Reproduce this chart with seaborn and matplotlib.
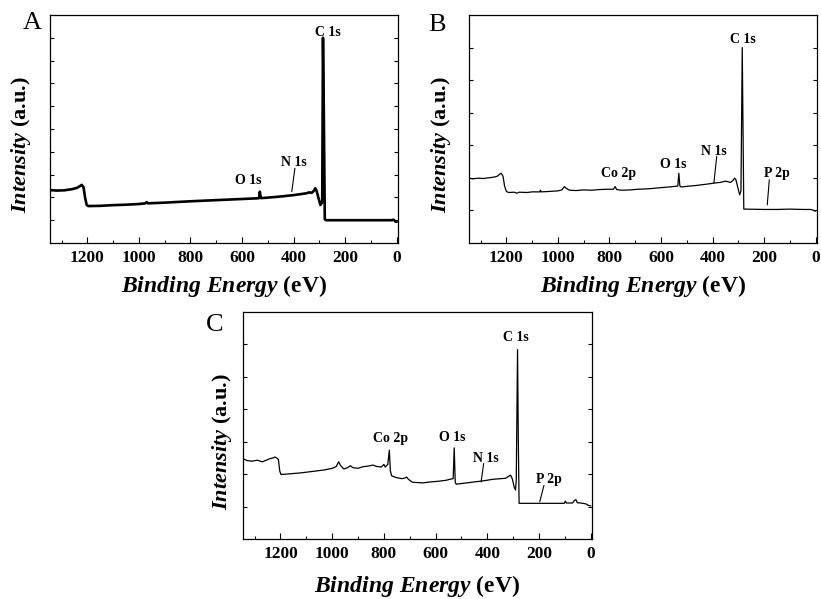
import numpy as np
import pandas as pd
import matplotlib
matplotlib.use("Agg")
import matplotlib.pyplot as plt
import seaborn as sns

# --- spectra (binding energy in eV, intensity in a.u.) ---
energy_a = [1345, 1320, 1290, 1260, 1240, 1228, 1222, 1215, 1209, 1203, 1197,
            1150, 1100, 1050, 1000, 975, 970, 965, 900, 800, 700, 600, 540,
            534, 531, 527, 500, 450, 400, 350, 340, 330, 322, 316, 311, 303,
            296, 291, 289, 286, 283, 279, 275, 200, 100, 20, 12, 5, 0]
inten_a = [2.32, 2.30, 2.31, 2.36, 2.42, 2.50, 2.55, 2.45, 2.00, 1.68, 1.62,
           1.63, 1.66, 1.68, 1.71, 1.74, 1.79, 1.74, 1.77, 1.83, 1.88, 1.93, 1.96,
           1.97, 2.25, 1.97, 1.99, 2.04, 2.10, 2.18, 2.22, 2.20, 2.28, 2.40, 2.30, 1.95,
           1.67, 1.75, 1.80, 9.00, 6.00, 1.05, 1.00, 1.00, 1.00, 1.00, 1.02, 0.94, 0.93]

energy_b = [1345, 1330, 1310, 1290, 1270, 1250, 1235, 1225, 1220, 1213, 1207,
            1200, 1190, 1170, 1160, 1150, 1120, 1100, 1070, 1068, 1065, 1040,
            1000, 985, 975, 968, 955, 930, 900, 870, 840, 810, 785, 778, 772,
            750, 720, 690, 660, 640, 600, 570, 545, 535, 531, 527, 522, 500,
            470, 440, 410, 395, 370, 350, 340, 330, 320, 315, 310, 302, 295,
            290, 285, 282, 279, 270, 200, 150, 100, 50, 20, 10, 3, 0]
inten_b = [1.99, 1.97, 1.99, 1.98, 2.00, 2.02, 2.05, 2.12, 2.14, 2.05, 1.75,
           1.58, 1.55, 1.56, 1.53, 1.56, 1.55, 1.57, 1.57, 1.62, 1.57, 1.58,
           1.60, 1.63, 1.73, 1.68, 1.62, 1.61, 1.63, 1.62, 1.64, 1.65, 1.65, 1.73, 1.64,
           1.62, 1.63, 1.65, 1.66, 1.67, 1.70, 1.72, 1.74, 1.75, 2.14, 1.75, 1.72, 1.74,
           1.76, 1.79, 1.82, 1.84, 1.86, 1.90, 1.88, 1.86, 1.93, 1.99, 1.95, 1.70, 1.48,
           1.60, 6.00, 3.50, 1.04, 1.04, 1.03, 1.03, 1.04, 1.03, 1.03, 1.01, 0.98, 0.98]

energy_c = [1345, 1330, 1310, 1290, 1270, 1255, 1240, 1228, 1222, 1215, 1208,
            1203, 1198, 1180, 1150, 1120, 1090, 1060, 1030, 1000, 985, 975,
            968, 955, 940, 930, 920, 900, 880, 860, 842, 830, 810, 800, 795,
            785, 779, 775, 770, 755, 730, 718, 712, 705, 690, 670, 650, 620,
            590, 560, 540, 532, 528, 524, 520, 500, 470, 440, 410, 380, 350,
            330, 318, 310, 303, 296, 291, 288, 283, 280, 277, 250, 200, 150,
            102, 98, 94, 70, 62, 57, 52, 30, 18, 10, 0]
inten_c = [2.48, 2.42, 2.40, 2.43, 2.38, 2.43, 2.48, 2.50, 2.53, 2.50, 2.45,
           2.10, 1.99, 2.00, 2.02, 2.04, 2.07, 2.10, 2.13, 2.18, 2.23, 2.38,
           2.27, 2.16, 2.20, 2.26, 2.20, 2.18, 2.23, 2.25, 2.28, 2.24, 2.22, 2.30, 2.22,
           2.30, 2.74, 2.10, 1.95, 1.90, 1.86, 1.88, 1.91, 1.84, 1.75, 1.74, 1.73, 1.76,
           1.78, 1.81, 1.85, 1.86, 2.81, 1.75, 1.69, 1.71, 1.74, 1.77, 1.80, 1.84, 1.86,
           1.87, 1.93, 1.97, 1.85, 1.60, 1.51, 1.80, 5.84, 3.00, 1.10, 1.10, 1.10, 1.10,
           1.10, 1.17, 1.11, 1.11, 1.20, 1.21, 1.12, 1.10, 1.08, 1.04, 1.02]

# peak labels: (text, x, y) and leader lines ((x0, y0), (x1, y1))
labels_a = [("C 1s", 268, 9.24), ("O 1s", 576, 2.76), ("N 1s", 397, 3.54)]
leaders_a = [((395, 3.28), (407, 2.25))]
labels_b = [("C 1s", 281, 6.25), ("N 1s", 395, 2.81), ("O 1s", 552, 2.42),
            ("Co 2p", 766, 2.14), ("P 2p", 151, 2.14)]
leaders_b = [((384, 2.66), (395, 1.84)), ((180, 1.94), (188, 1.17))]
labels_c = [("C 1s", 291, 6.21), ("Co 2p", 776, 3.09), ("O 1s", 537, 3.14),
            ("N 1s", 407, 2.48), ("P 2p", 162, 1.83)]
leaders_c = [((414, 2.33), (424, 1.76)), ((181, 1.65), (197, 1.15))]

sns.set_style("ticks")
plt.rcParams['font.family'] = ['Liberation Serif', 'DejaVu Serif']
plt.rcParams['mathtext.fontset'] = 'custom'
plt.rcParams['mathtext.rm'] = 'Liberation Serif:bold'
plt.rcParams['mathtext.bf'] = 'Liberation Serif:bold'
plt.rcParams['mathtext.it'] = 'Liberation Serif:bold:italic'
plt.rcParams['mathtext.bfit'] = 'Liberation Serif:bold:italic'
for key in ['text.color', 'axes.labelcolor', 'xtick.color', 'ytick.color', 'axes.edgecolor']:
    plt.rcParams[key] = 'black'

fig = plt.figure(figsize=(8.21, 5.99), dpi=100)
W, H = 821, 599


def px_axes(left, top, right, bottom):
    return fig.add_axes([left / W, 1 - bottom / H, (right - left) / W, (bottom - top) / H])


def draw_panel(ax, energy, inten, ymax, yticks, lw, labels, leaders, ylab_x, xpad):
    df = pd.DataFrame({'Binding Energy': energy, 'Intensity': inten})
    sns.lineplot(data=df, x='Binding Energy', y='Intensity', ax=ax,
                 color='black', linewidth=lw, estimator=None)
    ax.set_xlim(1345, -5)
    ax.set_ylim(0, ymax)
    ax.set_xticks([1200, 1000, 800, 600, 400, 200, 0])
    ax.set_xticks([1300, 1100, 900, 700, 500, 300, 100], minor=True)
    ax.set_yticks(yticks)
    ax.set_yticklabels([])
    ax.tick_params(axis='x', which='major', direction='in', length=4, width=0.8,
                   labelsize=12.5, pad=5)
    ax.tick_params(axis='x', which='minor', direction='in', length=2.5, width=0.8)
    ax.tick_params(axis='y', direction='in', length=3, width=0.8, left=True, right=True)
    for lab in ax.get_xticklabels():
        lab.set_fontweight('bold')
    for sp in ax.spines.values():
        sp.set_linewidth(0.9)
        sp.set_color('black')
    ax.set_xlabel(r"$\mathit{Binding\ Energy}$ (eV)", fontsize=17, fontweight='bold', labelpad=xpad)
    ax.set_ylabel(r"$\mathit{Intensity}$ (a.u.)", fontsize=16, fontweight='bold')
    ax.yaxis.set_label_coords(ylab_x, 0.43)
    for txt, x, y in labels:
        ax.text(x, y, txt, fontsize=10, fontweight='bold', ha='center', va='center')
    for (x0, y0), (x1, y1) in leaders:
        ax.plot([x0, x1], [y0, y1], color='black', linewidth=0.8)


ax_a = px_axes(50, 15, 398, 243)
draw_panel(ax_a, energy_a, inten_a, 10, range(1, 10), 1.9, labels_a, leaders_a, -0.050, 5)
ax_b = px_axes(469, 15, 817, 243)
draw_panel(ax_b, energy_b, inten_b, 7, range(1, 7), 0.9, labels_b, leaders_b, -0.047, 5)
ax_c = px_axes(243, 312, 592, 539)
draw_panel(ax_c, energy_c, inten_c, 7, range(1, 7), 0.9, labels_c, leaders_c, -0.026, 8)

fig.text(32 / W, 1 - 23 / H, "A", fontsize=19, ha='center', va='center')
fig.text(437 / W, 1 - 25 / H, "B", fontsize=19, ha='center', va='center')
fig.text(215 / W, 1 - 325 / H, "C", fontsize=19, ha='center', va='center')

fig.savefig("out.png", dpi=100)
